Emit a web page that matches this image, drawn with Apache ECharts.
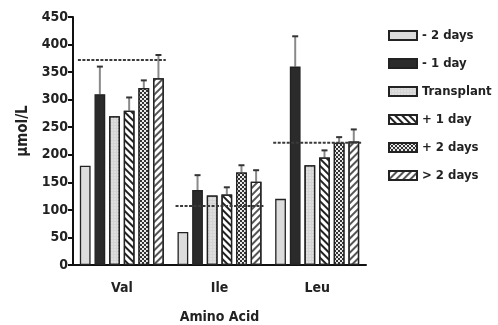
<!DOCTYPE html>
<html>
<head>
<meta charset="utf-8">
<script src="https://cdn.jsdelivr.net/npm/echarts@6/dist/echarts.min.js"></script>
<style>
  html, body { margin: 0; padding: 0; background: #fff; }
  #chartmain { width: 498px; height: 325px; }
</style>
</head>
<body>
<div id="chartmain"></div>
<script>
// categories / series
var categories = ['Val', 'Ile', 'Leu'];
var seriesNames = ['- 2 days', '- 1 day', 'Transplant', '+ 1 day', '+ 2 days', '> 2 days'];
var minus2Days = [180, 60, 120];
var minus1Day = [310, 136, 360];
var transplant = [270, 126, 181];
var plus1Day = [280, 128, 195];
var plus2Days = [321, 168, 222];
var over2Days = [339, 151, 224];
// upper error bar (value + sd)
var minus2DaysErr = [null, null, null];
var minus1DayErr = [360, 163, 415];
var transplantErr = [null, null, null];
var plus1DayErr = [304, 141, 208];
var plus2DaysErr = [335, 181, 232];
var over2DaysErr = [381, 172, 246];
// dotted reference line per amino acid
var refLevel = [372, 107, 222];
var yTicks = [0, 450, 50];

var FONT = "'DejaVu Sans Condensed', 'DejaVu Sans', sans-serif";
var barValues = [minus2Days, minus1Day, transplant, plus1Day, plus2Days, over2Days];
var errValues = [minus2DaysErr, minus1DayErr, transplantErr, plus1DayErr, plus2DaysErr, over2DaysErr];

var CAT_GAP = 0.14, BAR_GAP = 0.36;

var styles = [
  { color: '#dcdcdc' },
  { color: '#2b2b2b' },
  { color: '#d4d4d4', decal: { symbol: 'circle', symbolSize: 0.7, color: '#f4f4f4', dashArrayX: [2, 1], dashArrayY: [2, 1] } },
  { color: '#ffffff', decal: { symbol: 'rect', color: '#222', dashArrayX: [1, 0], dashArrayY: [2, 3], rotation: Math.PI / 4 } },
  { color: '#333333', decal: { symbol: 'rect', symbolSize: 0.9, color: '#ffffff', dashArrayX: [[2, 2], [0, 2, 2, 0]], dashArrayY: [2, 0] } },
  { color: '#ffffff', decal: { symbol: 'rect', color: '#555', dashArrayX: [1, 0], dashArrayY: [2, 3], rotation: -Math.PI / 4 } }
];

var series = [];
seriesNames.forEach(function (name, i) {
  series.push({
    name: name,
    type: 'bar',
    barCategoryGap: (CAT_GAP * 100) + '%',
    barGap: (BAR_GAP * 100) + '%',
    itemStyle: {
      color: styles[i].color,
      decal: styles[i].decal,
      borderColor: '#222',
      borderWidth: 1.3
    },
    emphasis: { disabled: true },
    z: 2,
    data: barValues[i]
  });
});

// error bars drawn on top of each bar
var errData = [];
errValues.forEach(function (arr, si) {
  arr.forEach(function (v, ci) {
    if (v != null) errData.push([ci, barValues[si][ci], v, si]);
  });
});
series.push({
  name: 'err',
  type: 'custom',
  z: 1,
  silent: true,
  renderItem: function (params, api) {
    var ci = api.value(0), si = api.value(3);
    var band = api.size([1, 0])[0];
    var n = seriesNames.length;
    var bw = band * (1 - CAT_GAP) / (n + (n - 1) * BAR_GAP);
    var step = bw * (1 + BAR_GAP);
    var base = api.coord([ci, api.value(1)]);
    var top = api.coord([ci, api.value(2)]);
    var x = base[0] + (si - (n - 1) / 2) * step;
    return {
      type: 'group',
      children: [
        { type: 'line', shape: { x1: x, y1: base[1], x2: x, y2: top[1] }, style: { stroke: '#8a8a8a', lineWidth: 2 } },
        { type: 'line', shape: { x1: x - 3, y1: top[1], x2: x + 3, y2: top[1] }, style: { stroke: '#333', lineWidth: 2 } }
      ]
    };
  },
  encode: { x: 0, y: 2 },
  data: errData
});

// dotted reference lines
series.push({
  name: 'ref',
  type: 'custom',
  z: 5,
  silent: true,
  renderItem: function (params, api) {
    var ci = api.value(0);
    var band = api.size([1, 0])[0];
    var p = api.coord([ci, api.value(1)]);
    return {
      type: 'line',
      shape: { x1: p[0] - band * 0.45, y1: p[1], x2: p[0] + band * 0.45, y2: p[1] },
      style: { stroke: '#3a3a3a', lineWidth: 2, lineDash: [3, 1.5] }
    };
  },
  encode: { x: 0, y: 1 },
  data: refLevel.map(function (v, i) { return [i, v]; })
});

var option = {
  animation: false,
  backgroundColor: '#fff',
  textStyle: { fontFamily: FONT },
  grid: { left: 73, right: 132, top: 17, bottom: 60, outerBoundsMode: 'none' },
  legend: {
    orient: 'vertical',
    left: 383,
    top: 24,
    icon: 'rect',
    itemWidth: 28,
    itemHeight: 9,
    itemGap: 15,
    data: seriesNames,
    textStyle: { fontFamily: FONT, fontSize: 13, fontWeight: 'bold', color: '#222' }
  },
  xAxis: {
    type: 'category',
    data: categories,
    name: 'Amino Acid',
    nameLocation: 'middle',
    nameGap: 45,
    nameTextStyle: { fontFamily: FONT, fontSize: 14, fontWeight: 'bold', color: '#222' },
    axisLine: { lineStyle: { color: '#111', width: 2 } },
    axisTick: { show: false },
    axisLabel: { margin: 16, fontFamily: FONT, fontSize: 14, fontWeight: 'bold', color: '#222' }
  },
  yAxis: {
    type: 'value',
    min: yTicks[0],
    max: yTicks[1],
    interval: yTicks[2],
    name: 'µmol/L',
    nameLocation: 'middle',
    nameGap: 42,
    nameTextStyle: { fontFamily: FONT, fontSize: 15, fontWeight: 'bold', color: '#222', padding: [0, 0, 0, 20] },
    axisLine: { show: true, lineStyle: { color: '#111', width: 2 } },
    axisTick: { show: true, length: 5, lineStyle: { color: '#111', width: 2 } },
    splitLine: { show: false },
    axisLabel: { margin: 5, fontFamily: FONT, fontSize: 14, fontWeight: 'bold', color: '#222' }
  },
  series: series
};

var chartmain = echarts.init(document.getElementById('chartmain'));
chartmain.setOption(option);
</script>
</body>
</html>
